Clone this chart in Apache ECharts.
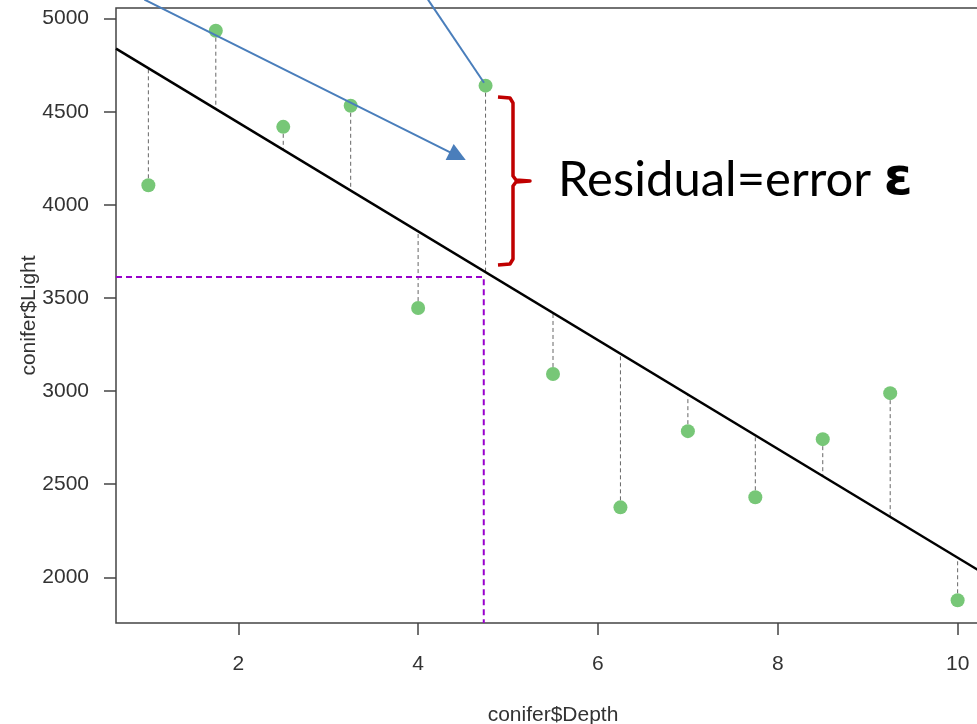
<!DOCTYPE html>
<html lang="en">
<head>
    <meta charset="UTF-8">
    <title>conifer Light vs Depth</title>
    <script src="https://cdn.jsdelivr.net/npm/echarts@6/dist/echarts.min.js"></script>
    <style>
        html, body { margin: 0; padding: 0; background: #fff; }
    </style>
</head>
<body>
<div id="main" style="width: 977px;height:724px;"></div>
<script type="text/javascript">
    // data
    var depth = [1, 1.75, 2.5, 3.25, 4, 4.75, 5.5, 6.25, 7, 7.75, 8.5, 9.25, 10];
    var light = [4105, 4935, 4419, 4532, 3446, 4640, 3092, 2376, 2785, 2430, 2742, 2989, 1877];
    var xTicks = [2, 4, 6, 8, 10];
    var yTicks = [2000, 2500, 3000, 3500, 4000, 4500, 5000];
    // fitted line
    var fitIntercept = 5026;
    var fitSlope = -292;
    // purple guide corner
    var guidePoint = [4.73, 3613];
    // blue arrows
    var arrow1 = [[0.956, 5102], [4.44, 4262]];
    var arrow2 = [[4.11, 5102], [4.733, 4656]];

    var xMin = 0.64, xMax = 10.36, yMin = 1755, yMax = 5057;

    function fit(x) { return fitIntercept + fitSlope * x; }

    var points = depth.map(function (d, i) { return [d, light[i]]; });
    var residuals = [];
    depth.forEach(function (d, i) {
        residuals.push([d, light[i]]);
        residuals.push([d, fit(d)]);
        residuals.push('-');
    });

    var myChart = echarts.init(document.getElementById('main'));
    var labelFont = {fontFamily: '"Liberation Sans", Arial, sans-serif', fontSize: 21, color: '#333'};

    myChart.setOption({
        animation: false,
        grid: {
            left: 116, top: 8, right: -13, bottom: 101,
            containLabel: false, outerBoundsMode: 'none',
            show: true, borderColor: '#444', borderWidth: 1.5
        },
        xAxis: {
            type: 'value', min: xMin, max: xMax,
            name: 'conifer$Depth', nameLocation: 'middle', nameGap: 82,
            nameMoveOverlap: false,
            nameTextStyle: labelFont,
            axisLine: {show: false},
            splitLine: {show: false},
            axisTick: {show: true, length: 12, lineStyle: {color: '#444', width: 1.5}, customValues: xTicks},
            axisLabel: Object.assign({margin: 31, customValues: xTicks, formatter: function (v) { return String(v); }}, labelFont)
        },
        yAxis: {
            type: 'value', min: yMin, max: yMax,
            name: 'conifer$Light', nameLocation: 'middle', nameGap: 76, nameRotate: 90,
            nameMoveOverlap: false,
            nameTextStyle: labelFont,
            axisLine: {show: false},
            splitLine: {show: false},
            axisTick: {show: true, length: 12, lineStyle: {color: '#444', width: 1.5}, customValues: yTicks},
            axisLabel: Object.assign({margin: 27, customValues: yTicks, formatter: function (v) { return String(v); }}, labelFont)
        },
        series: [
            {
                // residuals
                type: 'line', data: residuals, symbol: 'none', z: 2,
                connectNulls: false,
                lineStyle: {color: '#666', width: 1, type: [4, 3]}
            },
            {
                // fitted line
                type: 'line', symbol: 'none', z: 3,
                data: [[xMin, fit(xMin)], [xMax, fit(xMax)]],
                lineStyle: {color: '#000', width: 2.5}
            },
            {
                // purple guide
                type: 'line', symbol: 'none', z: 3,
                data: [[xMin, guidePoint[1]], guidePoint, [guidePoint[0], yMin]],
                lineStyle: {color: '#9900CC', width: 2, type: [6, 4]}
            },
            {
                type: 'scatter', data: points, z: 4,
                symbol: 'circle', symbolSize: 14,
                itemStyle: {color: '#77C777', opacity: 1}
            },
            {
                // arrows
                type: 'lines', coordinateSystem: 'cartesian2d', z: 6,
                clip: false, silent: true,
                symbol: ['none', 'triangle'], symbolSize: 18,
                lineStyle: {color: '#4A7EBB', width: 2, opacity: 1},
                data: [{coords: arrow1}]
            },
            {
                type: 'lines', coordinateSystem: 'cartesian2d', z: 6,
                clip: false, silent: true,
                symbol: ['none', 'none'],
                lineStyle: {color: '#4A7EBB', width: 2, opacity: 1},
                data: [{coords: arrow2}]
            }
        ],
        graphic: [
            {
                type: 'polyline', z: 10,
                shape: {points: [[498, 97], [510, 98], [513, 103], [513, 176], [516, 180], [530, 181], [516, 182], [513, 186], [513, 259], [510, 264], [498, 265]]},
                style: {stroke: '#C00000', lineWidth: 3.5, fill: null, lineJoin: 'round'}
            },
            {
                type: 'text', left: 558, top: 154, z: 10,
                style: {
                    text: '{a|Residual=error }{b|ε}',
                    rich: {
                        a: {fontFamily: 'Lato, "Open Sans", sans-serif', fontSize: 49, fill: '#000'},
                        b: {fontFamily: '"DejaVu Sans", sans-serif', fontSize: 52, fontWeight: 'bold', fill: '#000'}
                    }
                }
            }
        ]
    });
</script>
</body>
</html>
